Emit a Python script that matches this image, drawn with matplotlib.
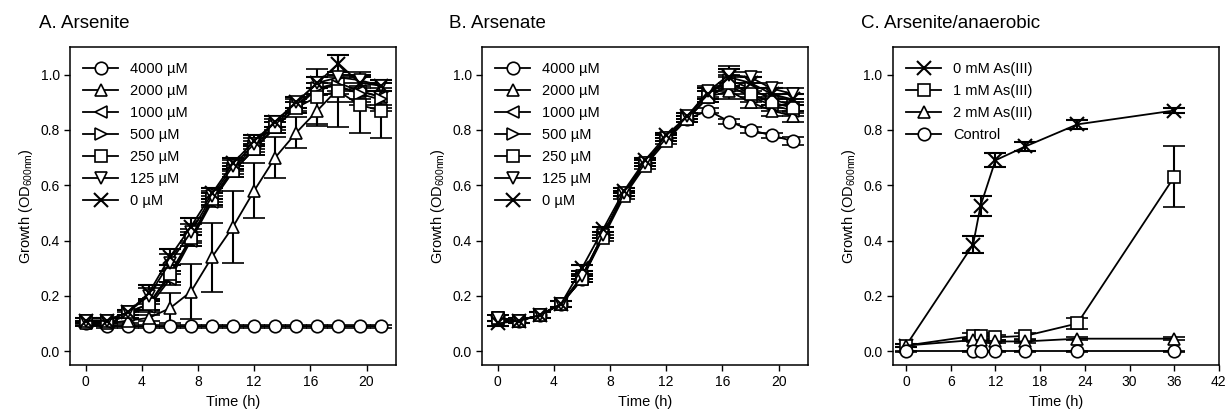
import numpy as np
import matplotlib.pyplot as plt

plt.rcParams['font.family'] = ['Liberation Sans', 'DejaVu Sans']

# Panel A / B time points (h)
time_ab = [0, 1.5, 3, 4.5, 6, 7.5, 9, 10.5, 12, 13.5, 15, 16.5, 18, 19.5, 21]
labels_ab = ['4000 µM', '2000 µM', '1000 µM', '500 µM', '250 µM', '125 µM', '0 µM']
markers_ab = ['o', '^', '<', '>', 's', 'v', 'x']

# A. Arsenite
arsenite_mean = [
    [0.10, 0.09, 0.09, 0.09, 0.09, 0.09, 0.09, 0.09, 0.09, 0.09, 0.09, 0.09, 0.09, 0.09, 0.09],
    [0.10, 0.10, 0.11, 0.12, 0.155, 0.215, 0.34, 0.45, 0.58, 0.70, 0.79, 0.87, 0.95, 0.94, 0.92],
    [0.10, 0.10, 0.13, 0.16, 0.26, 0.40, 0.54, 0.65, 0.73, 0.81, 0.88, 0.95, 0.97, 0.94, 0.92],
    [0.11, 0.11, 0.14, 0.17, 0.27, 0.41, 0.55, 0.66, 0.74, 0.82, 0.89, 0.95, 0.96, 0.93, 0.91],
    [0.11, 0.11, 0.14, 0.17, 0.28, 0.41, 0.55, 0.65, 0.73, 0.81, 0.88, 0.92, 0.94, 0.89, 0.87],
    [0.11, 0.11, 0.14, 0.20, 0.32, 0.43, 0.56, 0.67, 0.75, 0.83, 0.90, 0.97, 0.99, 0.98, 0.96],
    [0.11, 0.11, 0.14, 0.21, 0.34, 0.45, 0.57, 0.68, 0.76, 0.83, 0.90, 0.97, 1.04, 0.97, 0.96],
]
arsenite_err = [
    [0.005, 0.005, 0.005, 0.005, 0.005, 0.005, 0.005, 0.005, 0.005, 0.005, 0.005, 0.005, 0.005, 0.005, 0.005],
    [0.01, 0.01, 0.01, 0.01, 0.055, 0.10, 0.125, 0.13, 0.10, 0.075, 0.055, 0.055, 0.05, 0.05, 0.05],
    [0.01, 0.01, 0.01, 0.02, 0.02, 0.02, 0.02, 0.02, 0.02, 0.02, 0.02, 0.02, 0.03, 0.03, 0.03],
    [0.01, 0.01, 0.01, 0.02, 0.02, 0.02, 0.02, 0.02, 0.02, 0.02, 0.02, 0.02, 0.03, 0.03, 0.03],
    [0.01, 0.01, 0.01, 0.02, 0.03, 0.03, 0.02, 0.02, 0.02, 0.02, 0.02, 0.10, 0.13, 0.10, 0.10],
    [0.01, 0.01, 0.01, 0.03, 0.03, 0.03, 0.02, 0.02, 0.02, 0.02, 0.02, 0.02, 0.02, 0.03, 0.02],
    [0.01, 0.01, 0.01, 0.03, 0.03, 0.03, 0.02, 0.02, 0.02, 0.02, 0.02, 0.02, 0.03, 0.03, 0.02],
]

# B. Arsenate
arsenate_mean = [
    [0.12, 0.11, 0.13, 0.17, 0.26, 0.42, 0.57, 0.68, 0.77, 0.84, 0.87, 0.83, 0.80, 0.78, 0.76],
    [0.12, 0.11, 0.13, 0.17, 0.26, 0.42, 0.57, 0.68, 0.77, 0.84, 0.92, 0.94, 0.90, 0.87, 0.85],
    [0.12, 0.11, 0.13, 0.17, 0.26, 0.42, 0.57, 0.68, 0.77, 0.84, 0.92, 0.96, 0.92, 0.89, 0.87],
    [0.12, 0.11, 0.13, 0.17, 0.27, 0.42, 0.57, 0.68, 0.77, 0.85, 0.93, 0.98, 0.95, 0.91, 0.89],
    [0.12, 0.11, 0.13, 0.17, 0.26, 0.41, 0.56, 0.67, 0.76, 0.84, 0.92, 0.97, 0.93, 0.90, 0.88],
    [0.12, 0.11, 0.13, 0.17, 0.27, 0.42, 0.57, 0.68, 0.77, 0.85, 0.94, 1.00, 0.99, 0.95, 0.93],
    [0.10, 0.11, 0.13, 0.17, 0.30, 0.44, 0.58, 0.69, 0.78, 0.85, 0.93, 0.99, 0.97, 0.93, 0.91],
]
arsenate_err = [
    [0.01, 0.01, 0.01, 0.01, 0.01, 0.01, 0.01, 0.01, 0.01, 0.01, 0.01, 0.01, 0.01, 0.01, 0.015],
    [0.01, 0.01, 0.01, 0.01, 0.01, 0.01, 0.01, 0.01, 0.01, 0.01, 0.02, 0.03, 0.02, 0.02, 0.02],
    [0.01, 0.01, 0.01, 0.01, 0.01, 0.01, 0.01, 0.01, 0.01, 0.01, 0.02, 0.03, 0.02, 0.02, 0.02],
    [0.01, 0.01, 0.01, 0.01, 0.01, 0.01, 0.01, 0.01, 0.01, 0.01, 0.02, 0.03, 0.02, 0.02, 0.02],
    [0.01, 0.01, 0.01, 0.01, 0.01, 0.01, 0.01, 0.01, 0.01, 0.01, 0.02, 0.03, 0.02, 0.02, 0.02],
    [0.01, 0.01, 0.01, 0.01, 0.01, 0.01, 0.01, 0.01, 0.01, 0.01, 0.02, 0.03, 0.02, 0.02, 0.02],
    [0.01, 0.01, 0.01, 0.01, 0.01, 0.01, 0.01, 0.01, 0.01, 0.01, 0.02, 0.03, 0.02, 0.02, 0.02],
]

# C. Arsenite/anaerobic
time_c = [0, 9, 10, 12, 16, 23, 36]
labels_c = ['0 mM As(III)', '1 mM As(III)', '2 mM As(III)', 'Control']
markers_c = ['x', 's', '^', 'o']
anaerobic_mean = [
    [0.02, 0.385, 0.525, 0.69, 0.74, 0.82, 0.87],
    [0.02, 0.055, 0.055, 0.05, 0.055, 0.10, 0.63],
    [0.02, 0.04, 0.04, 0.035, 0.035, 0.045, 0.045],
    [0.0, 0.0, 0.0, 0.0, 0.0, 0.0, 0.0],
]
anaerobic_err = [
    [0.005, 0.03, 0.035, 0.025, 0.015, 0.015, 0.01],
    [0.005, 0.01, 0.01, 0.01, 0.01, 0.02, 0.11],
    [0.005, 0.005, 0.005, 0.005, 0.005, 0.005, 0.005],
    [0.002, 0.002, 0.002, 0.002, 0.002, 0.002, 0.002],
]

fig = plt.figure(figsize=(12.3, 4.19), dpi=100)
ax_w, ax_h, ax_b = 0.265, 0.759, 0.129
axs = [fig.add_axes([0.057, ax_b, ax_w, ax_h]),
       fig.add_axes([0.392, ax_b, ax_w, ax_h]),
       fig.add_axes([0.726, ax_b, ax_w, ax_h])]

style = dict(color='black', mfc='white', mec='black', ms=9, mew=1.2,
             lw=1.3, capsize=8, elinewidth=1.5, capthick=1.5)

def draw(ax, t, means, errs, labels, markers):
    handles = []
    for m, e, lab, mk in zip(means, errs, labels, markers):
        s = dict(style, ms=10 if mk == 'x' else 9, mew=1.5 if mk == 'x' else 1.2)
        cont = ax.errorbar(t, m, yerr=e, marker=mk, **s)
        handles.append(cont.lines[0])
    ax.legend(handles, labels, loc='upper left', frameon=False, fontsize=10.5,
              handlelength=2.4, handletextpad=0.8, labelspacing=0.55,
              borderaxespad=0.5, bbox_to_anchor=(0.0, 0.995))
    ax.set_ylim(-0.05, 1.1)
    ax.set_yticks([0.0, 0.2, 0.4, 0.6, 0.8, 1.0])
    ax.set_yticklabels(['0.0', '0.2', '0.4', '0.6', '0.8', '1.0'])
    ax.set_ylabel(r'Growth (OD$_{\mathregular{600nm}}$)', fontsize=10.5)
    ax.set_xlabel('Time (h)', fontsize=10.5)
    ax.tick_params(direction='out', labelsize=10, length=4, width=1,
                   top=False, right=False)
    for sp in ax.spines.values():
        sp.set_linewidth(1.1)

draw(axs[0], time_ab, arsenite_mean, arsenite_err, labels_ab, markers_ab)
draw(axs[1], time_ab, arsenate_mean, arsenate_err, labels_ab, markers_ab)
draw(axs[2], time_c, anaerobic_mean, anaerobic_err, labels_c, markers_c)

for ax in axs[:2]:
    ax.set_xlim(-1.1, 22.1)
    ax.set_xticks([0, 4, 8, 12, 16, 20])
axs[2].set_xlim(-1.75, 42)
axs[2].set_xticks([0, 6, 12, 18, 24, 30, 36, 42])

fig.text(39 / 1230, 1 - 28 / 419, 'A. Arsenite', fontsize=13.5, ha='left', va='baseline')
fig.text(449 / 1230, 1 - 28 / 419, 'B. Arsenate', fontsize=13.5, ha='left', va='baseline')
fig.text(861 / 1230, 1 - 28 / 419, 'C. Arsenite/anaerobic', fontsize=13.5, ha='left', va='baseline')

fig.savefig('out.png', dpi=100)
